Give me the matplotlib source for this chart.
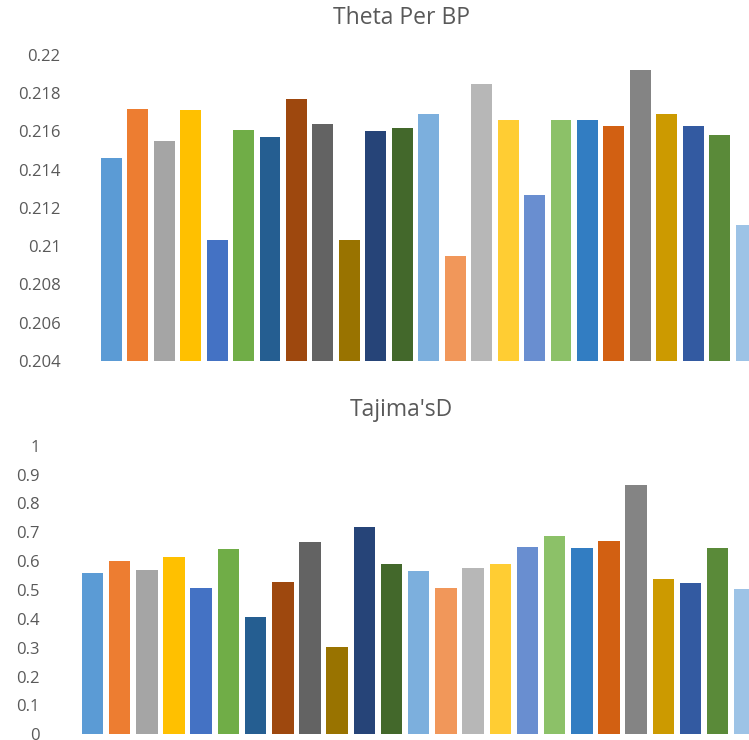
import matplotlib
matplotlib.use("Agg")
import matplotlib.pyplot as plt

plt.rcParams['font.family'] = ['Open Sans', 'DejaVu Sans']

# Excel default series palette (25 bars)
colors = ["#5B9BD5", "#ED7D31", "#A5A5A5", "#FFC000", "#4472C4", "#70AD47",
          "#255E91", "#9E480E", "#636363", "#997300", "#264478", "#43682B",
          "#7CAFDD", "#F1975A", "#B7B7B7", "#FFCD33", "#698ED0", "#8CC168",
          "#327DC2", "#D26012", "#848484", "#CC9A00", "#335AA1", "#5A8A39",
          "#9DC3E6"]

theta_per_bp = [0.2146, 0.2172, 0.2155, 0.2171, 0.2103, 0.2161, 0.2157,
                0.2177, 0.2164, 0.2103, 0.2160, 0.2162, 0.2169, 0.2095,
                0.2185, 0.2166, 0.2127, 0.2166, 0.2166, 0.2163, 0.2192,
                0.2169, 0.2163, 0.2158, 0.2111]
tajimas_d = [0.560, 0.599, 0.568, 0.614, 0.508, 0.642, 0.405, 0.527,
             0.667, 0.301, 0.718, 0.591, 0.566, 0.508, 0.577, 0.589,
             0.649, 0.686, 0.646, 0.669, 0.863, 0.538, 0.523, 0.644, 0.505]

theta_ticks = [0.204, 0.206, 0.208, 0.21, 0.212, 0.214, 0.216, 0.218, 0.22]
theta_labels = ["0.204", "0.206", "0.208", "0.21", "0.212", "0.214", "0.216", "0.218", "0.22"]
tajima_ticks = [0, 0.1, 0.2, 0.3, 0.4, 0.5, 0.6, 0.7, 0.8, 0.9, 1]
tajima_labels = ["0", "0.1", "0.2", "0.3", "0.4", "0.5", "0.6", "0.7", "0.8", "0.9", "1"]

GRAY = "#595959"

fig = plt.figure(figsize=(7.49, 7.40), dpi=100)
ax1 = fig.add_axes([0.131, 0.5122, 0.869, 0.4135])
ax2 = fig.add_axes([0.1053, 0.0077, 0.8947, 0.3900])


def style(ax, values, ticks, labels, ylim, xright, pad):
    x = range(len(values))
    ax.bar(x, [v - ylim[0] for v in values], bottom=ylim[0], width=0.79, color=colors)
    ax.set_ylim(*ylim)
    ax.set_xlim(-0.5, xright)
    ax.set_yticks(ticks)
    ax.set_yticklabels(labels)
    ax.set_xticks([])
    ax.tick_params(axis='y', length=0, pad=pad, labelsize=12, labelcolor=GRAY)
    for s in ax.spines.values():
        s.set_visible(False)


style(ax1, theta_per_bp, theta_ticks, theta_labels, (0.204, 0.22), 24.11, 27)
style(ax2, tajimas_d, tajima_ticks, tajima_labels, (0, 1), 24.15, 28)

fig.text(0.536, 0.976, "Theta Per BP", ha='center', va='center', fontsize=16.5, color=GRAY)
fig.text(0.536, 0.446, "Tajima'sD", ha='center', va='center', fontsize=16.5, color=GRAY)

fig.savefig("out.png", dpi=100)
